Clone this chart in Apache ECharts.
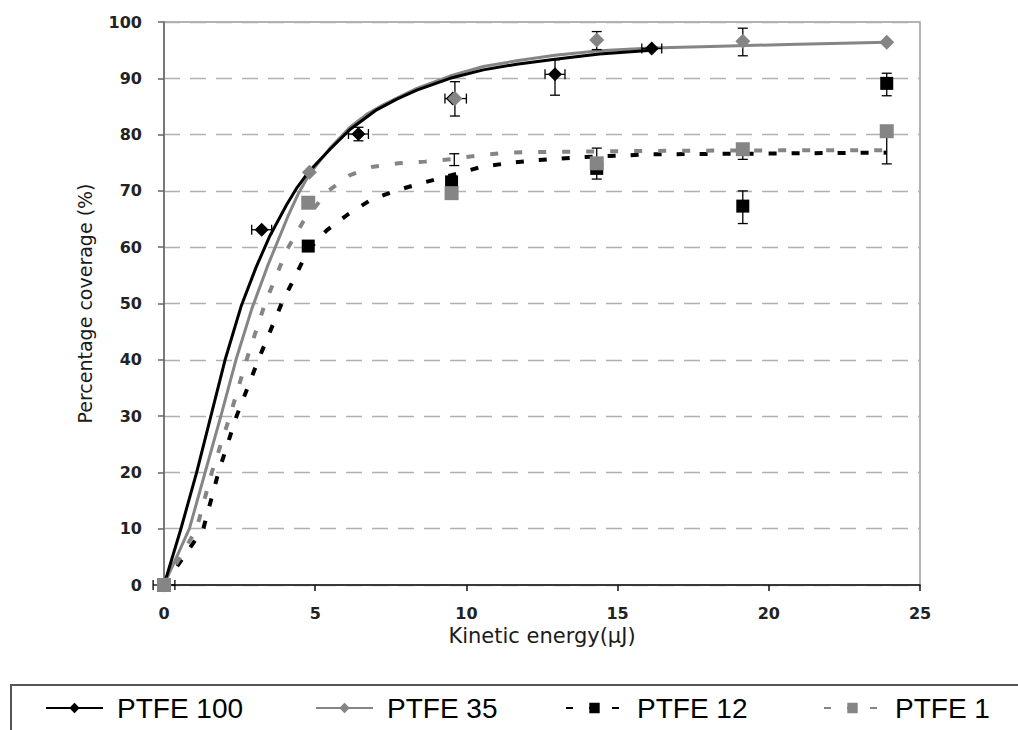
<!DOCTYPE html>
<html>
<head>
<meta charset="utf-8">
<script src="https://cdn.jsdelivr.net/npm/echarts@6/dist/echarts.min.js"></script>
<style>
html,body{margin:0;padding:0;background:#fff;}
#chart{width:1018px;height:730px;}
</style>
</head>
<body>
<div id="chart"></div>
<script>
// ---- data ----
const seriesNames = ['PTFE 100', 'PTFE 35', 'PTFE 12', 'PTFE 1'];
const xTicks = [0, 5, 10, 15, 20, 25];
const yTicks = [0, 10, 20, 30, 40, 50, 60, 70, 80, 90, 100];

// measured points [energy, coverage]
const ptfe100Points = [[0,0],[3.23,63.1],[6.43,80.1],[9.55,86.4],[12.93,90.7],[16.13,95.3]];
const ptfe35Points  = [[0,0],[4.81,73.3],[9.62,86.4],[14.31,96.8],[19.14,96.6],[23.9,96.4]];
const ptfe12Points  = [[0,0],[4.77,60.2],[9.51,71.6],[14.31,74.0],[19.14,67.3],[23.9,89.1]];
const ptfe1Points   = [[0,0],[4.77,67.9],[9.51,69.6],[14.31,74.9],[19.14,77.4],[23.9,80.6]];

// fitted curves
const ptfe100Fit = [[0,0],[0.56,10],[1.08,20],[1.55,30],[2.02,40],[2.55,49.5],[3.05,56.5],[3.5,62],[4.05,67.5],[4.4,70.6],[4.77,73.3],[5.49,77.4],[6.15,80.9],[7.03,84.4],[7.7,86.3],[8.36,87.9],[9.46,90.0],[10.56,91.5],[11.66,92.5],[12.93,93.4],[14.4,94.3],[16.13,95.0]];
const ptfe35Fit  = [[0,0],[0.84,10],[1.36,20],[1.88,30],[2.38,40],[2.9,49],[3.45,57],[4.1,65.5],[4.45,69.6],[4.81,73.0],[5.49,77.6],[6.15,81.3],[6.7,83.6],[7.25,85.3],[8.36,88.2],[9.46,90.4],[10.56,92.1],[11.66,93.1],[12.93,94.1],[14.4,94.9],[16.13,95.4],[18.39,95.7],[20.6,96.0],[23.9,96.4]];
const ptfe12Fit  = [[0,0],[1.3,10],[1.8,20],[2.4,30],[3.12,40],[3.89,50],[4.77,59.5],[5.38,63],[6.1,65.9],[6.81,68.3],[7.64,70.0],[8.47,71.3],[9.57,72.9],[10.45,74.2],[11.33,74.9],[12.2,75.4],[13.87,76.0],[16.1,76.5],[19.1,76.6],[23.9,76.8]];
const ptfe1Fit   = [[0,0],[1.08,10],[1.58,20],[2.18,30],[2.73,40],[3.34,50],[4.06,59.5],[4.6,64.5],[5.43,70.0],[6.15,72.8],[6.92,74.3],[7.75,74.9],[8.63,75.2],[9.6,75.7],[10.5,76.4],[11.4,76.8],[12.2,76.9],[16,77.1],[20,77.2],[23.9,77.2]];

// vertical error bars [energy, low, high]
const yErrorBars = [[6.43,78.9,81.3],[9.62,83.3,89.4],[9.6,74.5,76.6],[12.93,87.0,93.3],[14.31,95.1,98.3],[14.31,72.1,77.6],[19.14,94.0,98.9],[19.14,64.2,70.0],[19.14,75.6,78.2],[23.9,86.9,90.9],[23.9,74.8,80.6]];
// horizontal error bars [coverage, low, high]
const xErrorBars = [[0,-0.36,0.36],[63.1,2.9,3.56],[80.1,6.1,6.76],[86.4,9.29,10.0],[90.7,12.6,13.26],[95.3,15.8,16.46]];

// ---- chart ----
const BLACK = '#000000';
const GREY = '#858585';
const chart = echarts.init(document.getElementById('chart'), null, {renderer: 'svg'});

function vErr(params, api) {
  const x = api.value(0), lo = api.value(1), hi = api.value(2);
  const p1 = api.coord([x, lo]), p2 = api.coord([x, hi]);
  const c = 5;
  const st = {stroke: '#000', lineWidth: 1.3, fill: 'none'};
  return {type: 'group', children: [
    {type: 'line', shape: {x1: p1[0], y1: p1[1], x2: p2[0], y2: p2[1]}, style: st},
    {type: 'line', shape: {x1: p1[0]-c, y1: p1[1], x2: p1[0]+c, y2: p1[1]}, style: st},
    {type: 'line', shape: {x1: p2[0]-c, y1: p2[1], x2: p2[0]+c, y2: p2[1]}, style: st}
  ]};
}
function hErr(params, api) {
  const y = api.value(0), lo = api.value(1), hi = api.value(2);
  const p1 = api.coord([lo, y]), p2 = api.coord([hi, y]);
  const c = 5;
  const st = {stroke: '#000', lineWidth: 1.3, fill: 'none'};
  return {type: 'group', children: [
    {type: 'line', shape: {x1: p1[0], y1: p1[1], x2: p2[0], y2: p2[1]}, style: st},
    {type: 'line', shape: {x1: p1[0], y1: p1[1]-c, x2: p1[0], y2: p1[1]+c}, style: st},
    {type: 'line', shape: {x1: p2[0], y1: p2[1]-c, x2: p2[0], y2: p2[1]+c}, style: st}
  ]};
}

const legendStyles = [
  {color: BLACK, type: 'solid', symbol: 'diamond', width: 3},
  {color: GREY, type: 'solid', symbol: 'diamond', width: 3},
  {color: BLACK, type: [7, 16], symbol: 'rect', width: 5},
  {color: GREY, type: [7, 16], symbol: 'rect', width: 5}
];
const legendLefts = [45, 315, 565, 823];

const legendSeries = seriesNames.map((n, i) => ({
  type: 'line', name: n, data: [],
  symbol: legendStyles[i].symbol, symbolSize: 12,
  itemStyle: {color: legendStyles[i].color},
  lineStyle: {color: legendStyles[i].color, width: legendStyles[i].width, type: legendStyles[i].type}
}));

function curve(name, data, color, type, width) {
  return {type: 'line', name: name, data: data, showSymbol: false, symbol: 'none',
    smooth: false, silent: true, z: 2,
    lineStyle: {color: color, width: width, type: type, join: 'round', cap: 'butt'}};
}
function marks(name, data, color, symbol, size) {
  return {type: 'scatter', name: name, data: data, symbol: symbol, symbolSize: size, z: 4,
    itemStyle: {color: color, opacity: 1}};
}

const option = {
  animation: false,
  backgroundColor: '#ffffff',
  grid: {left: 164, right: 98, top: 22, bottom: 145, show: true, borderColor: '#9a9a9a', borderWidth: 1.5, backgroundColor: 'transparent'},
  legend: seriesNames.map((n, i) => ({
    data: [n], left: legendLefts[i], top: 694, padding: 0,
    itemWidth: 57, itemHeight: 13, selectedMode: false,
    textStyle: {fontFamily: 'Liberation Sans', fontSize: 28, color: '#000', padding: [0, 0, 0, 9]}
  })),
  xAxis: {
    type: 'value', min: 0, max: 25, interval: 5,
    name: 'Kinetic energy(μJ)', nameLocation: 'middle', nameGap: 40,
    nameTextStyle: {fontFamily: 'DejaVu Sans', fontSize: 21, color: '#1a1a1a'},
    axisLine: {show: true, onZero: false, lineStyle: {color: '#111', width: 1.5}},
    axisTick: {show: true, inside: false, length: 6, lineStyle: {color: '#111', width: 1.5}},
    axisLabel: {margin: 20, fontFamily: 'DejaVu Sans', fontWeight: 'bold', fontSize: 16, color: '#222',
      formatter: v => xTicks.includes(v) ? String(v) : ''},
    splitLine: {show: false}
  },
  yAxis: {
    type: 'value', min: 0, max: 100, interval: 10,
    name: 'Percentage coverage (%)', nameLocation: 'middle', nameGap: 70,
    nameTextStyle: {fontFamily: 'DejaVu Sans', fontSize: 19, color: '#1a1a1a'},
    axisLine: {show: true, onZero: false, lineStyle: {color: '#666', width: 1.5}},
    axisTick: {show: true, inside: false, length: 6, lineStyle: {color: '#666', width: 1.5}},
    axisLabel: {margin: 22, fontFamily: 'DejaVu Sans', fontWeight: 'bold', fontSize: 16, color: '#222',
      formatter: v => yTicks.includes(v) ? String(v) : ''},
    splitLine: {show: true, lineStyle: {color: '#b0b0b0', width: 1.3, type: [16, 10]}}
  },
  graphic: [{
    type: 'rect', left: 10, top: 684, z: -1, silent: true,
    shape: {width: 1030, height: 60},
    style: {fill: '#fff', stroke: '#555', lineWidth: 2}
  }],
  series: [
    ...legendSeries,
    curve('fit35', ptfe35Fit, GREY, 'solid', 3),
    curve('fit100', ptfe100Fit, BLACK, 'solid', 3),
    curve('fit12', ptfe12Fit, BLACK, [8, 15], 4),
    curve('fit1', ptfe1Fit, GREY, [8, 16], 4),
    {type: 'custom', name: 'yerr', data: yErrorBars, renderItem: vErr, z: 3, silent: true},
    {type: 'custom', name: 'xerr', data: xErrorBars, renderItem: hErr, z: 3, silent: true, encode: {x: [1, 2], y: 0}},
    marks('m100', ptfe100Points, BLACK, 'diamond', 14),
    marks('m35', ptfe35Points, GREY, 'diamond', 15),
    marks('m12', ptfe12Points, BLACK, 'rect', 13),
    marks('m1', ptfe1Points, GREY, 'rect', 14)
  ]
};
chart.setOption(option);
</script>
</body>
</html>
